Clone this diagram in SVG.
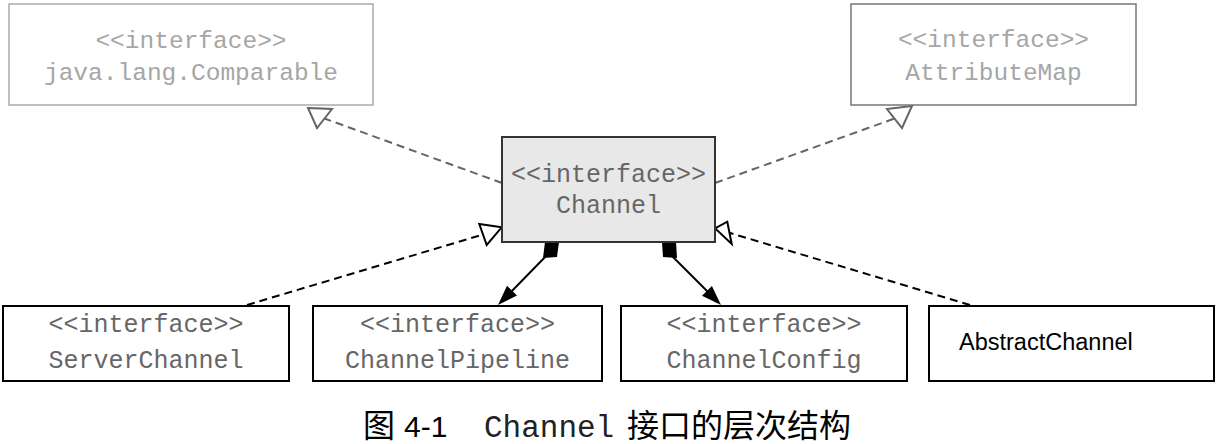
<svg xmlns="http://www.w3.org/2000/svg" width="1218" height="444" viewBox="0 0 1218 444">
<style>
.mono{font-family:"Liberation Mono","DejaVu Sans Mono",monospace;text-anchor:middle}
.t25{font-size:25px;fill:#666}
.t24{font-size:24.5px;fill:#a6a6a6}
.box{fill:#fff;stroke:#000;stroke-width:2}
.dg{fill:none;stroke:#666;stroke-width:2;stroke-dasharray:8 5}
.db{fill:none;stroke:#000;stroke-width:2;stroke-dasharray:8 5}
.tri{fill:#fff;stroke-width:2;stroke-linejoin:miter}
.sol{fill:none;stroke:#000;stroke-width:2}
</style>
<rect width="1218" height="444" fill="#fff"/>
<g id="connectors">
<line class="dg" x1="502" y1="183" x2="324.5" y2="118.5"/>
<polygon class="tri" stroke="#666" points="308,108 332,109 317,128"/>
<line class="dg" x1="715" y1="183" x2="894.5" y2="118.5"/>
<polygon class="tri" stroke="#666" points="912,106 887,109 902,128"/>
<line class="db" x1="247" y1="305" x2="483" y2="234.5"/>
<polygon class="tri" stroke="#000" points="501.7,227.3 479.3,224 486.7,245"/>
<line class="db" x1="970" y1="305" x2="729.5" y2="232.8"/>
<polygon class="tri" stroke="#000" points="715,228.3 727.3,221.7 731.7,244"/>
<line class="sol" x1="548" y1="254" x2="509" y2="294"/>
<polygon fill="#000" points="545,242 559,242 557,257 543,258"/>
<polygon fill="#000" points="498,305 517,295.6 507,285.8"/>
<line class="sol" x1="670" y1="254" x2="710" y2="294"/>
<polygon fill="#000" points="662,242 676,242 677,258 663,257"/>
<polygon fill="#000" points="721,305 711.9,285.9 702,295.8"/>
</g>
<g id="comparable">
<rect x="9" y="4" width="364" height="101" fill="#fff" stroke="#aaa" stroke-width="1.5"/>
<text class="mono t24" x="191" y="48">&lt;&lt;interface&gt;&gt;</text>
<text class="mono t24" x="191" y="80">java.lang.Comparable</text>
</g>
<g id="attributemap">
<rect x="851" y="4" width="285" height="101" fill="#fff" stroke="#777" stroke-width="1.5"/>
<text class="mono t24" x="993.5" y="47">&lt;&lt;interface&gt;&gt;</text>
<text class="mono t24" x="993.5" y="80">AttributeMap</text>
</g>
<g id="channel">
<rect x="502" y="137" width="213" height="105" fill="#e8e8e8" stroke="#333" stroke-width="2"/>
<text class="mono t25" x="608.5" y="182">&lt;&lt;interface&gt;&gt;</text>
<text class="mono t25" x="608.5" y="213">Channel</text>
</g>
<g id="serverchannel">
<rect class="box" x="3" y="306" width="286" height="75"/>
<text class="mono t25" x="146" y="332">&lt;&lt;interface&gt;&gt;</text>
<text class="mono t25" x="146" y="368">ServerChannel</text>
</g>
<g id="channelpipeline">
<rect class="box" x="313" y="306" width="289" height="75"/>
<text class="mono t25" x="457.5" y="332">&lt;&lt;interface&gt;&gt;</text>
<text class="mono t25" x="457.5" y="368">ChannelPipeline</text>
</g>
<g id="channelconfig">
<rect class="box" x="621" y="306" width="286" height="75"/>
<text class="mono t25" x="764" y="332">&lt;&lt;interface&gt;&gt;</text>
<text class="mono t25" x="764" y="368">ChannelConfig</text>
</g>
<g id="abstractchannel">
<rect class="box" x="929" y="306" width="285" height="75"/>
<text x="959" y="350" font-family="Liberation Sans, Arial, sans-serif" font-size="23.5" fill="#000">AbstractChannel</text>
</g>
<g id="caption">
<text x="363" y="437" font-family="Noto Sans CJK SC, sans-serif" font-size="32" fill="#000">图</text>
<text x="404" y="437" font-family="Liberation Sans, Arial, sans-serif" font-size="30" fill="#000">4-1</text>
<text x="484" y="437" font-family="Liberation Mono, monospace" font-size="31" fill="#222">Channel</text>
<text x="627" y="437" font-family="Noto Sans CJK SC, sans-serif" font-size="32" fill="#000">接口的层次结构</text>
</g>
</svg>
